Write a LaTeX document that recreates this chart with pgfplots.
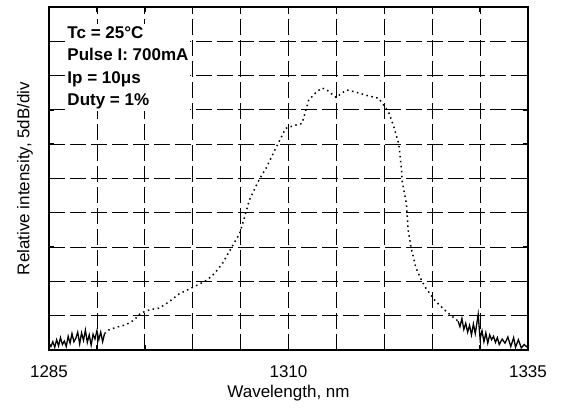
\documentclass[border=0pt]{standalone}
\usepackage{pgfplots}
\pgfplotsset{compat=1.18}
\usepackage{fontspec}
\setmainfont{Liberation Sans}
\begin{document}
\begin{tikzpicture}
\path[use as bounding box] (-49pt,-64pt) rectangle (516pt,350pt);
\begin{axis}[
  at={(0,0)}, anchor=south west,
  width=479pt, height=343pt, scale only axis,
  xmin=1285, xmax=1335, ymin=0, ymax=50,
  xtick={1285,1290,...,1335},
  xticklabels={1285,,,,,1310,,,,,1335},
  ytick={0,5,...,50}, yticklabels={},
  /pgf/number format/assume math mode=true,
  grid=major,
  major grid style={black, line width=0.8pt, dash pattern=on 16pt off 5pt},
  axis line style={line width=1.6pt},
  tick style={black, line width=1.4pt},
  major tick length=5pt, tick align=inside,
  xticklabel style={font=\fontsize{17}{20}\selectfont, yshift=-12pt},
  xlabel={Wavelength, nm},
  xlabel style={at={(axis description cs:0.5,0)}, anchor=center, yshift=-43pt, font=\fontsize{17}{20}\selectfont},
  ylabel={Relative intensity, 5dB/div},
  ylabel style={at={(axis description cs:-0.050,0.5)}, anchor=center, font=\fontsize{17}{20}\selectfont},
]
\node[anchor=north west, inner sep=2pt, fill=white, align=left,
      font=\fontsize{17}{22.5}\selectfont\bfseries]
  at (rel axis cs:0.034,0.950) {Tc = 25°C\\Pulse I: 700mA\\Ip = 10μs\\Duty = 1\%};
% left noise floor
\addplot[black, line width=1.3pt] coordinates {
(1285.0,1.0) (1285.2,0.5) (1285.4,1.2) (1285.6,0.4) (1285.8,1.5) (1286.0,0.6)
(1286.2,1.8) (1286.4,0.8) (1286.6,1.3) (1286.8,0.5) (1287.0,2.0) (1287.2,1.0)
(1287.4,2.4) (1287.6,1.2) (1287.8,1.7) (1288.0,2.6) (1288.2,0.9) (1288.4,2.5)
(1288.6,1.4) (1288.8,2.9) (1289.0,1.1) (1289.2,2.2) (1289.4,0.7) (1289.6,2.3)
(1289.8,1.6) (1290.0,2.8) (1290.2,1.5) (1290.4,2.6) (1290.6,1.2) (1290.8,2.4)
};
% spectrum (dotted)
\addplot[black, line width=1.5pt, dash pattern=on 1.5pt off 3.5pt] coordinates {
(1290.8,2.4) (1291.2,2.9) (1292.0,3.3) (1292.8,3.6) (1293.5,4.0) (1294.2,4.8)
(1294.5,5.3) (1295.0,5.6) (1295.6,5.9) (1296.5,6.1) (1297.5,7.0) (1298.6,8.2)
(1299.5,8.8) (1300.4,9.4) (1301.5,10.2) (1302.3,11.2) (1303.1,12.6) (1304.0,14.8)
(1304.9,17.0) (1305.4,19.3) (1305.9,21.8) (1306.4,23.3) (1307.0,25.0) (1307.7,26.6)
(1308.7,29.5) (1309.7,32.3) (1310.1,32.5) (1311.0,32.9) (1311.4,33.0) (1311.8,34.9)
(1312.1,36.4) (1312.9,37.6) (1313.5,38.2) (1314.1,37.8) (1314.7,37.1) (1315.0,36.8)
(1315.5,37.4) (1316.1,37.9) (1317.0,37.6) (1318.2,37.1) (1319.4,36.7) (1320.1,35.4)
(1320.5,34.5) (1321.0,32.5) (1321.5,30.1) (1321.7,27.6) (1321.8,26.2) (1321.85,24.7)
(1322.3,21.4) (1322.5,17.4) (1322.8,14.9) (1323.3,12.0) (1323.9,10.1) (1324.3,9.1)
(1325.3,7.2) (1326.4,5.7) (1327.7,4.2)
};
% right noise floor
\addplot[black, line width=1.3pt] coordinates {
(1327.7,4.2) (1327.9,3.4) (1328.1,4.6) (1328.3,3.0) (1328.5,3.9) (1328.7,2.6)
(1328.9,3.6) (1329.1,2.2) (1329.3,3.8) (1329.5,2.4) (1329.8,5.2) (1330.0,1.6)
(1330.2,2.8) (1330.4,1.2) (1330.6,2.5) (1330.8,1.0) (1331.0,2.2) (1331.2,1.5)
(1331.4,2.0) (1331.6,1.1) (1331.8,1.8) (1332.0,0.8) (1332.3,1.6) (1332.6,1.0)
(1332.9,1.9) (1333.2,0.5) (1333.5,1.8) (1333.7,0.4) (1334.0,1.5) (1334.3,0.3)
(1334.6,0.8) (1335.0,0.3)
};
\end{axis}
\end{tikzpicture}
\end{document}
